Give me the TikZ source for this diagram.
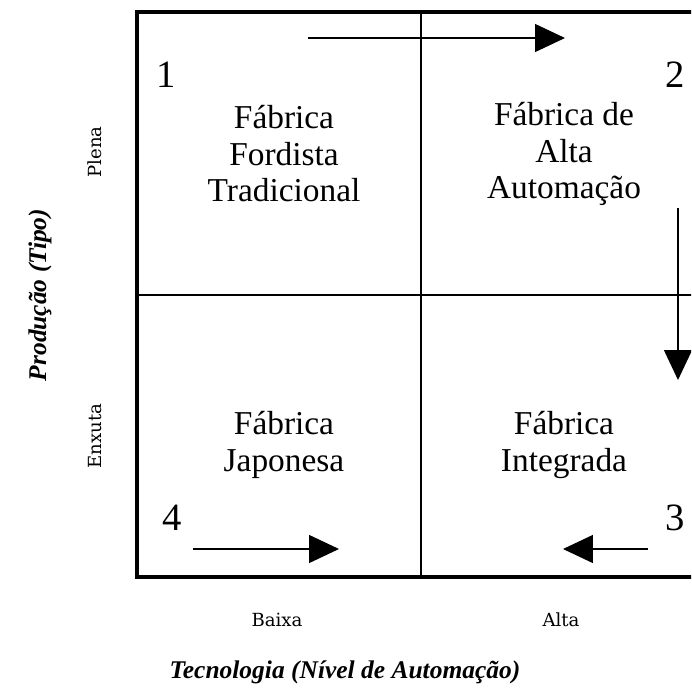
\documentclass[tikz,border=0pt]{standalone}
\usepackage{fontspec}
\setmainfont{Liberation Serif}
\newfontfamily\labelfont{DejaVu Serif}
\usetikzlibrary{arrows.meta}

\tikzset{
  quadtext/.style={align=center, font=\fontsize{19}{20.8}\selectfont},
  quadnum/.style={font=\fontsize{22}{26}\selectfont},
  levellabel/.style={font=\labelfont\fontsize{10.3}{12}\selectfont},
  axistitle/.style={font=\bfseries\itshape\fontsize{14.5}{17}\selectfont},
  flow/.style={line width=0.8pt, -{Triangle[length=0.6cm, width=0.56cm]}}
}

\begin{document}
\begin{tikzpicture}[x=0.02cm, y=-0.02cm]
                    \clip (0,0) rectangle (691,694);
                    \fill[white] (0,0) rectangle (691,694);
                    % quadrants
                    \draw[line width=0.8pt] (421,12) -- (421,577);
                    \draw[line width=0.8pt] (137,295) -- (720,295);
                    \draw[line width=2.3pt] (720,12) -- (137,12) -- (137,577) -- (720,577);

                    \node[quadnum] (n1) at (166,75) {1};
                    \node[quadnum] (n2) at (675,75) {2};
                    \node[quadnum] (n3) at (675,518) {3};
                    \node[quadnum] (n4) at (172,518) {4};

                    \node[quadtext] (fordista) at (284,154) {Fábrica\\Fordista\\Tradicional};
                    \node[quadtext] (automacao) at (564,154) {Fábrica de\\Alta\\Automação};
                    \node[quadtext] (integrada) at (564,445) {Fábrica\\Integrada};
                    \node[quadtext] (japonesa) at (284,445) {Fábrica\\Japonesa};

                    % arrows
                    \coordinate (a1s) at (308,38);
                    \coordinate (a1e) at (565,38);
                    \coordinate (a2s) at (678,208);
                    \coordinate (a2e) at (678,380);
                    \coordinate (a3s) at (648,549);
                    \coordinate (a3e) at (563,549);
                    \coordinate (a4s) at (193,549);
                    \coordinate (a4e) at (339,549);
                    \draw[flow] (a1s) -- (a1e);
                    \draw[flow] (a2s) -- (a2e);
                    \draw[flow] (a3s) -- (a3e);
                    \draw[flow] (a4s) -- (a4e);

                    \node[levellabel, rotate=90] (plena) at (95,152) {Plena};
                    \node[levellabel, rotate=90] (enxuta) at (95,436) {Enxuta};
                    \node[levellabel] (baixa) at (277,620) {Baixa};
                    \node[levellabel] (alta) at (561,620) {Alta};

                    \node[axistitle, rotate=90] (producao) at (40,295) {Produção (Tipo)};
                    \node[axistitle] (tecnologia) at (345,672) {Tecnologia (Nível de Automação)};
                \end{tikzpicture}
\end{document}
